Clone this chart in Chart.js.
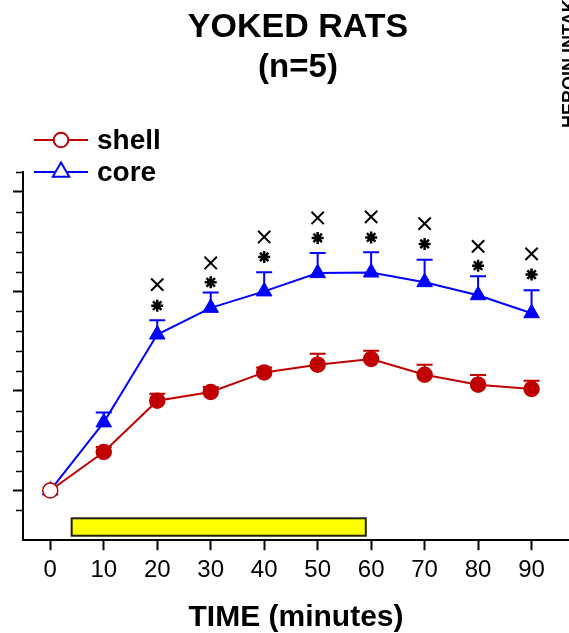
<!DOCTYPE html>
<html>
<head>
<meta charset="utf-8">
<script src="https://cdn.jsdelivr.net/npm/chart.js@4"></script>
<style>
  body { margin: 0; background: #fff; }
  canvas { display: block; }
</style>
</head>
<body>
<canvas id="chart" width="569" height="633"></canvas>
<script>
// time after session start (minutes)
const times = [0, 10, 20, 30, 40, 50, 60, 70, 80, 90];
const xTicks = [0, 10, 20, 30, 40, 50, 60, 70, 80, 90];

// mean and SEM per time point, shell and core
const shellMean = [100, 138.6, 190.2, 198.9, 218.6, 226.4, 232.1, 216.3, 206.3, 201.9];
const shellSem = [0, 5, 7, 5, 5, 11, 8.3, 10, 9.7, 8.4];
const coreMean = [100, 168.4, 256.7, 283.5, 300, 318.4, 319, 309.3, 296.2, 278.1];
const coreSem = [0, 10, 14.2, 15.5, 19.2, 20.3, 20.3, 22.6, 19, 23];

// significance symbols above the core points (null = not significant)
const starMarks = [null, null, 285.7, 309.1, 334.6, 353.7, 354.3, 347.7, 325.9, 316.9];
const crossMarks = [null, null, 306.8, 328.6, 354.7, 373.8, 374.9, 368.1, 345.3, 337.7];

// heroin availability period (minutes)
const infusionStart = 4;
const infusionEnd = 59;

const RED = '#C00000';
const BLUE = '#0000FF';
const FONT = "'Liberation Sans', Arial, sans-serif";

Chart.defaults.font.family = FONT;
Chart.defaults.color = '#000';

function points(values) {
  return times.map((t, i) => ({x: t, y: values[i]})).filter(p => p.y !== null);
}

const errorBars = {
  id: 'errorBars',
  beforeDatasetsDraw(chart) {
    const {ctx, scales: {x, y}} = chart;
    [[shellMean, shellSem, RED], [coreMean, coreSem, BLUE]].forEach(([mean, sem, color]) => {
      ctx.save();
      ctx.strokeStyle = color;
      ctx.lineWidth = 2;
      times.forEach((t, i) => {
        if (!sem[i]) return;
        const px = x.getPixelForValue(t);
        const top = y.getPixelForValue(mean[i] + sem[i]);
        ctx.beginPath();
        ctx.moveTo(px, y.getPixelForValue(mean[i]));
        ctx.lineTo(px, top);
        ctx.moveTo(px - 8, top);
        ctx.lineTo(px + 8, top);
        ctx.stroke();
      });
      ctx.restore();
    });
  }
};

const decorations = {
  id: 'decorations',
  beforeDatasetsDraw(chart) {
    const {ctx, scales: {x, y}} = chart;
    // yellow bar for the infusion period
    const left = x.getPixelForValue(infusionStart);
    const right = x.getPixelForValue(infusionEnd);
    const top = y.getPixelForValue(72);
    const bottom = y.getPixelForValue(54.5);
    ctx.save();
    ctx.fillStyle = '#FFFF00';
    ctx.strokeStyle = '#222200';
    ctx.lineWidth = 2;
    ctx.fillRect(left, top, right - left, bottom - top);
    ctx.strokeRect(left, top, right - left, bottom - top);
    ctx.restore();
  },
  afterDraw(chart) {
    const {ctx, scales: {y}} = chart;
    ctx.save();

    // minor y ticks
    ctx.strokeStyle = '#000';
    ctx.lineWidth = 1.5;
    for (let v = 80; v <= 420; v += 20) {
      if (v % 100 === 0) continue;
      const py = Math.round(y.getPixelForValue(v)) + 0.5;
      ctx.beginPath();
      ctx.moveTo(y.right - 7, py);
      ctx.lineTo(y.right, py);
      ctx.stroke();
    }

    // title
    ctx.fillStyle = '#000';
    ctx.textAlign = 'center';
    ctx.textBaseline = 'alphabetic';
    ctx.font = `bold 34px ${FONT}`;
    ctx.fillText('YOKED RATS', 298, 37);
    ctx.font = `bold 33px ${FONT}`;
    ctx.fillText('(n=5)', 298, 77);

    // neighbouring axis title, cut at the edge
    ctx.save();
    ctx.translate(575, 128);
    ctx.rotate(-Math.PI / 2);
    ctx.textAlign = 'left';
    ctx.font = `bold 18px ${FONT}`;
    ctx.fillText('HEROIN INTAKE', 0, 0);
    ctx.restore();

    // legend
    const rows = [
      {label: 'shell', color: RED, style: 'circle', radius: 7.3, y: 140},
      {label: 'core', color: BLUE, style: 'triangle', radius: 9.5, y: 172}
    ];
    ctx.textAlign = 'left';
    ctx.font = `bold 28px ${FONT}`;
    rows.forEach(r => {
      ctx.strokeStyle = r.color;
      ctx.lineWidth = 2;
      ctx.beginPath();
      ctx.moveTo(34, r.y);
      ctx.lineTo(88, r.y);
      ctx.stroke();
      ctx.fillStyle = '#fff';
      Chart.helpers.drawPoint(ctx, {pointStyle: r.style, radius: r.radius, rotation: 0, borderWidth: 2}, 61, r.y);
      ctx.fillStyle = '#000';
      ctx.fillText(r.label, 97, r.y + 8.5);
    });
    ctx.restore();
  }
};

new Chart(document.getElementById('chart'), {
  type: 'line',
  data: {
    datasets: [
      {
        label: 'shell',
        data: points(shellMean),
        borderColor: RED,
        borderWidth: 2,
        pointStyle: 'circle',
        pointRadius: 7.5,
        pointBorderWidth: 1.5,
        pointBorderColor: RED,
        pointBackgroundColor: times.map((t, i) => i === 0 ? '#fff' : RED),
        tension: 0
      },
      {
        label: 'core',
        data: points(coreMean),
        borderColor: BLUE,
        borderWidth: 2,
        pointStyle: 'triangle',
        pointRadius: 9,
        pointBorderWidth: 1,
        pointBorderColor: BLUE,
        pointBackgroundColor: BLUE,
        tension: 0
      },
      {
        label: 'star',
        data: points(starMarks),
        showLine: false,
        pointStyle: 'star',
        pointRadius: 6,
        pointBorderWidth: 2.5,
        pointBorderColor: '#000'
      },
      {
        label: 'cross',
        data: points(crossMarks),
        showLine: false,
        pointStyle: 'crossRot',
        pointRadius: 8.7,
        pointBorderWidth: 2,
        pointBorderColor: '#000'
      }
    ]
  },
  options: {
    responsive: false,
    animation: false,
    layout: {autoPadding: false, padding: {left: 13, top: 172, right: 0, bottom: 0}},
    plugins: {
      legend: {display: false},
      tooltip: {enabled: false},
      title: {display: false}
    },
    scales: {
      x: {
        type: 'linear',
        min: -5.1,
        max: 97,
        afterBuildTicks: scale => { scale.ticks = xTicks.map(v => ({value: v})); },
        ticks: {
          color: '#000',
          font: {size: 24},
          padding: 6,
          maxRotation: 0,
          autoSkip: false
        },
        grid: {drawOnChartArea: false, tickLength: 10, tickColor: '#000', tickWidth: 2},
        border: {color: '#000', width: 2},
        title: {
          display: true,
          text: 'TIME (minutes)',
          color: '#000',
          font: {size: 30, weight: 'bold', lineHeight: 1},
          padding: {top: 12, bottom: 0}
        }
      },
      y: {
        type: 'linear',
        min: 50,
        max: 420,
        afterBuildTicks: scale => { scale.ticks = [100, 200, 300, 400].map(v => ({value: v})); },
        ticks: {display: false},
        grid: {drawOnChartArea: false, tickLength: 10, tickColor: '#000', tickWidth: 2},
        border: {color: '#000', width: 2}
      }
    }
  },
  plugins: [errorBars, decorations]
});
</script>
</body>
</html>
